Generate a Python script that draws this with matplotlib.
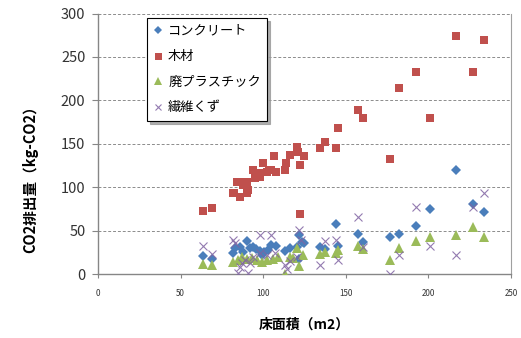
import matplotlib
matplotlib.use("Agg")
import matplotlib.pyplot as plt

plt.rcParams['font.family'] = ['Noto Sans CJK JP', 'DejaVu Sans']

# Data (floor area m2, CO2 kg)
conc_x = [63.3, 68.9, 81.9, 82.9, 85.9, 90.3, 91.9, 93.9, 95.9, 97.9, 100.4, 103, 105, 107.7,
          113.4, 116.2, 120.7, 121.9, 123.3, 124.7, 121.9, 134.4, 137.4, 144.1, 145.1, 157.2,
          160.7, 176.8, 182.5, 192.4, 201.1, 216.9, 226.8, 233.4, 88.0, 99.0]
conc_y = [20.7, 16.9, 23.8, 29.5, 31.5, 38.4, 29.5, 31.5, 28.4, 26.9, 25.7, 27.6, 33.4, 32.2,
          26.9, 29.5, 31.5, 44.9, 37.2, 35.3, 17.6, 31.5, 28.4, 57.2, 32.2, 46.4,
          36.8, 42.2, 46.4, 55.6, 74.4, 119.7, 80.6, 71.7, 25.0, 22.0]

wood_x = [63.3, 68.9, 81.9, 82.4, 83.9, 85.9, 87.5, 89.1, 89.9, 90.3, 90.9, 93.9, 95.0, 98.0,
          97.6, 100.0, 102.0, 103.6, 105.0, 106.7, 108.0, 113.0, 114.0, 116.2, 120.7, 121.2,
          122.2, 122.2, 124.8, 134.4, 137.4, 144.1, 145.1, 157.2, 160.7, 176.8, 182.5, 192.4,
          201.1, 216.9, 226.8, 233.4]
wood_y = [72.9, 75.6, 92.8, 93.6, 106.2, 89.0, 102.4, 106.3, 106.0, 92.8, 96.7, 119.7, 110.0, 112.0,
          115.8, 127.4, 117.7, 119.7, 119.7, 135.8, 117.7, 119.7, 127.4, 137.0, 146.5, 140.0,
          125.4, 69.0, 135.8, 144.6, 152.3, 144.6, 167.6, 188.7, 179.1, 132.7, 213.7, 233.2,
          179.1, 273.9, 233.2, 270.0]

plas_x = [63.3, 68.9, 81.9, 84.9, 86.9, 89.9, 93.0, 96.0, 99.0, 102.0, 106.0, 109.1, 113.4,
          116.2, 118.2, 120.7, 121.9, 124.3, 134.4, 137.4, 144.1, 145.1, 157.2, 160.7, 176.8,
          182.5, 192.4, 201.1, 216.9, 226.8, 233.4]
plas_y = [11.5, 10.4, 14.2, 16.1, 19.9, 16.9, 18.0, 16.1, 14.2, 16.1, 16.9, 19.2, 0.0,
          19.9, 18.0, 29.5, 9.2, 21.9, 23.0, 25.7, 23.8, 27.6, 32.2, 28.4, 16.1,
          29.5, 38.4, 42.2, 44.9, 53.7, 42.2]

fib_x = [63.3, 68.9, 81.9, 82.9, 84.9, 85.9, 86.9, 88.9, 90.9, 91.9, 93.9, 97.9, 97.9, 102.0,
         105.0, 107.1, 113.4, 114.2, 116.2, 120.7, 121.9, 122.7, 134.4, 137.4, 144.1, 145.1,
         157.2, 160.7, 176.8, 182.5, 192.4, 201.1, 216.9, 226.8, 233.4]
fib_y = [32.2, 23.0, 39.1, 36.0, 0.8, 8.4, 12.3, 16.1, 0.8, 12.3, 20.0, 44.9, 23.8, 21.9,
         44.9, 23.8, 10.4, 5.4, 15.3, 20.0, 50.6, 39.1, 10.4, 38.4, 39.1, 16.1,
         65.2, 31.5, 0.0, 21.9, 76.7, 32.2, 21.9, 76.7, 93.6]

labels = ['コンクリート', '木材', '廃プラスチック', '繊維くず']
x_ticks = [0, 50, 100, 150, 200, 250]
y_ticks = [0, 50, 100, 150, 200, 250, 300]

fig = plt.figure(figsize=(5.21, 3.38), dpi=100)
ax = fig.add_axes([98/521, 1-274/338, (511-98)/521, (274-13.5)/338])

c_conc = '#4A7EBB'
c_wood = '#C0504D'
c_plas = '#9BBB59'
c_fib = '#8064A2'

ax.plot(conc_x, conc_y, linestyle='none', marker='D', markersize=4.6, color=c_conc,
        markeredgewidth=0, label=labels[0], zorder=3)
ax.plot(wood_x, wood_y, linestyle='none', marker='s', markersize=6.3, color=c_wood,
        markeredgewidth=0, label=labels[1], zorder=3)
ax.plot(plas_x, plas_y, linestyle='none', marker='^', markersize=6.5, color=c_plas,
        markeredgewidth=0, label=labels[2], zorder=3)
ax.plot(fib_x, fib_y, linestyle='none', marker='x', markersize=5.5, color=c_fib,
        markeredgewidth=0.8, alpha=0.85, label=labels[3], zorder=3)

ax.set_xlim(0, 250)
ax.set_ylim(0, 300)
ax.set_xticks(x_ticks)
ax.set_yticks(y_ticks)
ax.tick_params(axis='x', labelsize=5.8, length=3, color='#868686', pad=8, labelcolor='#333333')
ax.tick_params(axis='y', labelsize=10.5, length=4, color='#868686', pad=5, labelcolor='#333333')

for s in ['left', 'bottom']:
    ax.spines[s].set_color('#868686')
    ax.spines[s].set_linewidth(1.0)
ax.spines['right'].set_color('#A0A0A0')
ax.spines['right'].set_linewidth(0.8)
ax.spines['top'].set_visible(False)

ax.yaxis.grid(True, linestyle=(0, (3, 2)), color='#8C8C8C', linewidth=0.7)
ax.set_axisbelow(True)

leg = ax.legend(loc='upper left', bbox_to_anchor=((147-98)/413, (274-18)/260.5),
                fontsize=9.5, frameon=True, fancybox=False,
                shadow={'color': '#9a9a9a', 'alpha': 0.8},
                handlelength=0.6, handletextpad=0.5, borderpad=0.5, labelspacing=0.95,
                borderaxespad=0, markerscale=0.8)
leg.get_frame().set_edgecolor('black')
leg.get_frame().set_linewidth(0.8)

fig.text(304/521, 1-325/338, '床面積（m2）', ha='center', va='center',
         fontsize=10, fontweight='bold')
fig.text(30/521, 1-176/338, 'CO2排出量（kg-CO2）', ha='center', va='center',
         rotation=90, fontsize=10.5, fontweight='bold')

fig.savefig('out.png', dpi=100)
